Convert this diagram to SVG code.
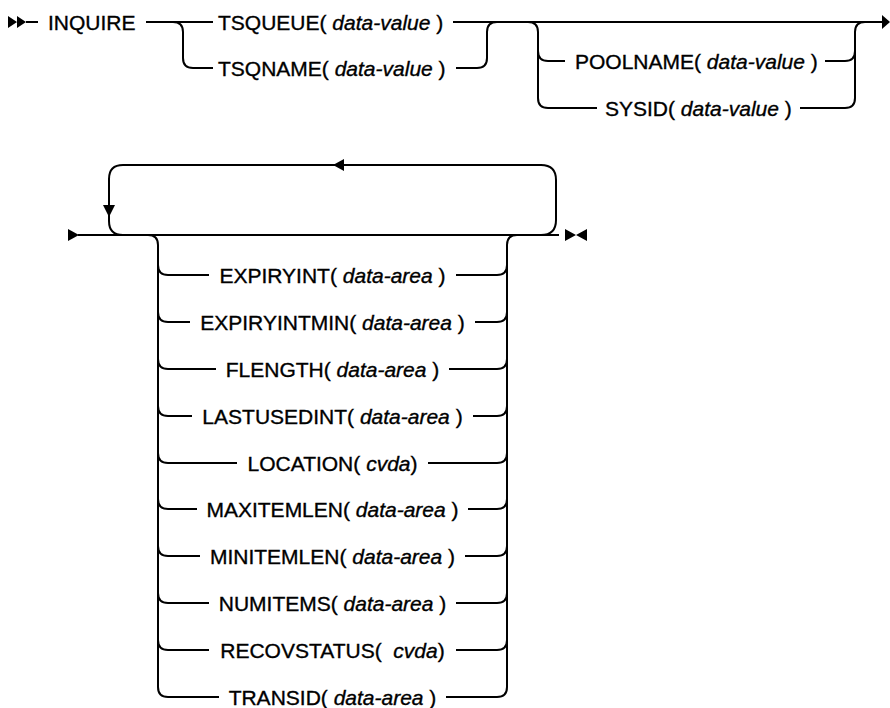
<svg xmlns="http://www.w3.org/2000/svg" width="890" height="708" viewBox="0 0 890 708">
<style>
.l{fill:none;stroke:#000;stroke-width:2}
.t{font-family:"Liberation Sans",Arial,sans-serif;font-size:21px;fill:#000;stroke:#000;stroke-width:0.35}
.i{font-style:italic}
.a{fill:#000;stroke:none}
</style>
<rect width="890" height="708" fill="#fff"/>
<g id="connectors">
<path class="l" d="M26,22 H38"/>
<path class="l" d="M146,22 H213"/>
<path class="l" d="M453,22 H884"/>
<path class="l" d="M173,22 Q183,22 183,32 V58 Q183,68 193,68 H213"/>
<path class="l" d="M456,68 H477 Q487,68 487,58 V32 Q487,22 497,22"/>
<path class="l" d="M528,22 Q538,22 538,32 V98 Q538,108 548,108 H597"/>
<path class="l" d="M538,51 Q538,61 548,61 H565"/>
<path class="l" d="M825,61 H845 Q855,61 855,51"/>
<path class="l" d="M800,108 H845 Q855,108 855,98 V32 Q855,22 865,22"/>
<path class="l" d="M78,235 H559"/>
<path class="l" d="M123,235 Q109,235 109,221 V179 Q109,165 123,165 H541 Q556,165 556,180 V220 Q556,235 541,235"/>
<path class="l" d="M148,235 Q158,235 158,245 V687"/>
<path class="l" d="M517,235 Q507,235 507,245 V687"/>
</g>
<g id="markers">
<path class="a" d="M8,16 L17,22 L8,28 Z M17,16 L26,22 L17,28 Z"/>
<path class="a" d="M882,15 L890,22 L882,29 Z"/>
<path class="a" d="M68,229 L79,235 L68,241 Z"/>
<path class="a" d="M565,229 L576,235 L565,241 Z M587,229 L576,235 L587,241 Z"/>
<path class="a" d="M333,165 L344,159 L344,171 Z"/>
<path class="a" d="M103,205 L115,205 L109,217 Z"/>
</g>
<g id="n-inquire"><text class="t" x="48" y="29.5">INQUIRE</text></g>
<g id="n-tsqueue"><text class="t" x="218" y="29.5">TSQUEUE( <tspan class="i">data-value</tspan> )</text></g>
<g id="n-tsqname"><text class="t" x="218" y="75.5">TSQNAME( <tspan class="i">data-value</tspan> )</text></g>
<g id="n-poolname"><text class="t" x="575" y="68.5">POOLNAME( <tspan class="i">data-value</tspan> )</text></g>
<g id="n-sysid"><text class="t" x="605" y="115.5">SYSID( <tspan class="i">data-value</tspan> )</text></g>
<g id="n-expiryint">
<path class="l" d="M158,265 Q158,275 168,275 H209 M456,275 H497 Q507,275 507,265"/>
<text class="t" x="332.5" y="282.5" text-anchor="middle">EXPIRYINT( <tspan class="i">data-area</tspan> )</text></g>
<g id="n-expiryintmin">
<path class="l" d="M158,312 Q158,322 168,322 H190 M475,322 H497 Q507,322 507,312"/>
<text class="t" x="332.5" y="329.5" text-anchor="middle">EXPIRYINTMIN( <tspan class="i">data-area</tspan> )</text></g>
<g id="n-flength">
<path class="l" d="M158,359 Q158,369 168,369 H216 M449,369 H497 Q507,369 507,359"/>
<text class="t" x="332.5" y="376.5" text-anchor="middle">FLENGTH( <tspan class="i">data-area</tspan> )</text></g>
<g id="n-lastusedint">
<path class="l" d="M158,406 Q158,416 168,416 H192 M473,416 H497 Q507,416 507,406"/>
<text class="t" x="332.5" y="423.5" text-anchor="middle">LASTUSEDINT( <tspan class="i">data-area</tspan> )</text></g>
<g id="n-location">
<path class="l" d="M158,453 Q158,463 168,463 H237 M428,463 H497 Q507,463 507,453"/>
<text class="t" x="332.5" y="470.5" text-anchor="middle">LOCATION( <tspan class="i">cvda</tspan>)</text></g>
<g id="n-maxitemlen">
<path class="l" d="M158,499 Q158,509 168,509 H197 M468,509 H497 Q507,509 507,499"/>
<text class="t" x="332.5" y="516.5" text-anchor="middle">MAXITEMLEN( <tspan class="i">data-area</tspan> )</text></g>
<g id="n-minitemlen">
<path class="l" d="M158,546 Q158,556 168,556 H200 M465,556 H497 Q507,556 507,546"/>
<text class="t" x="332.5" y="563.5" text-anchor="middle">MINITEMLEN( <tspan class="i">data-area</tspan> )</text></g>
<g id="n-numitems">
<path class="l" d="M158,593 Q158,603 168,603 H209 M456,603 H497 Q507,603 507,593"/>
<text class="t" x="332.5" y="610.5" text-anchor="middle">NUMITEMS( <tspan class="i">data-area</tspan> )</text></g>
<g id="n-recovstatus">
<path class="l" d="M158,640 Q158,650 168,650 H209 M456,650 H497 Q507,650 507,640"/>
<text class="t" x="332.5" y="657.5" text-anchor="middle" xml:space="preserve">RECOVSTATUS(  <tspan class="i">cvda</tspan>)</text></g>
<g id="n-transid">
<path class="l" d="M158,687 Q158,697 168,697 H219 M446,697 H497 Q507,697 507,687"/>
<text class="t" x="332.5" y="704.5" text-anchor="middle">TRANSID( <tspan class="i">data-area</tspan> )</text></g>
</svg>
